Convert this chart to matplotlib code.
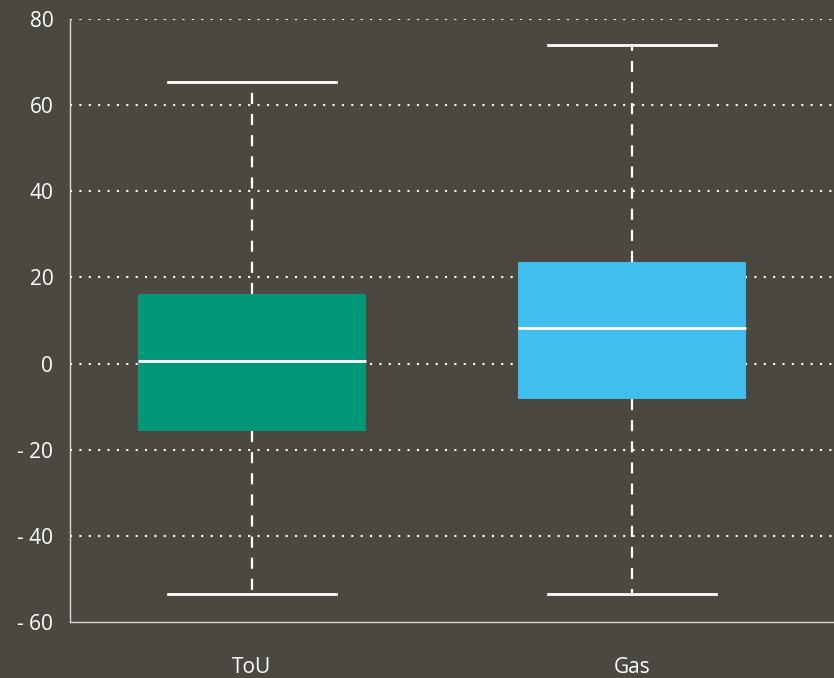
import matplotlib
matplotlib.use("Agg")
import matplotlib.pyplot as plt

categories = ["ToU", "Gas"]
whislo = [-53.5, -53.5]
q1 = [-15.6, -8.2]
med = [0.6, 8.3]
q3 = [16.2, 23.6]
whishi = [65.4, 74.0]
colors = ["#009879", "#40bfef"]
yticks = [-60, -40, -20, 0, 20, 40, 60, 80]
ytick_labels = ["- 60", "- 40", "- 20", "0", "20", "40", "60", "80"]

bg = "#4a4841"
W, H = 834, 678
fig = plt.figure(figsize=(W / 100, H / 100), dpi=100, facecolor=bg)
ax = fig.add_axes([70 / W, (H - 622) / H, (W - 70) / W, (622 - 19) / H], facecolor=bg)
fam = ['Open Sans', 'DejaVu Sans']

stats = []
for i, c in enumerate(categories):
    stats.append(dict(label=c, whislo=whislo[i], q1=q1[i], med=med[i], q3=q3[i], whishi=whishi[i], fliers=[]))

for i, s in enumerate(stats):
    ax.bxp([s], positions=[i], widths=0.6, patch_artist=True, showfliers=False,
           boxprops=dict(facecolor=colors[i], edgecolor=colors[i], linewidth=0),
           medianprops=dict(color="white", linewidth=2),
           whiskerprops=dict(color="white", linewidth=1.6, linestyle=(0, (5, 4.5))),
           capprops=dict(color="white", linewidth=2), capwidths=0.442)

ax.set_xlim(-0.479, 1.532)
ax.set_ylim(-60, 80)
ax.set_yticks(yticks)
ax.set_yticklabels(ytick_labels, fontsize=15, color="white", family=fam)
ax.set_xticks(range(len(categories)))
ax.set_xticklabels(categories, fontsize=15, color="white", family=fam)
ax.tick_params(axis="both", length=0)
ax.tick_params(axis="y", pad=12)
ax.tick_params(axis="x", pad=25)
for y in yticks[1:]:
    ax.axhline(y, color="white", linestyle=(0, (1, 3.5)), linewidth=1.5, zorder=0)
for sp in ["top", "right"]:
    ax.spines[sp].set_visible(False)
for sp in ["left", "bottom"]:
    ax.spines[sp].set_color("#d8d8d8")
    ax.spines[sp].set_linewidth(1)

fig.savefig("out.png", dpi=100, facecolor=bg)
